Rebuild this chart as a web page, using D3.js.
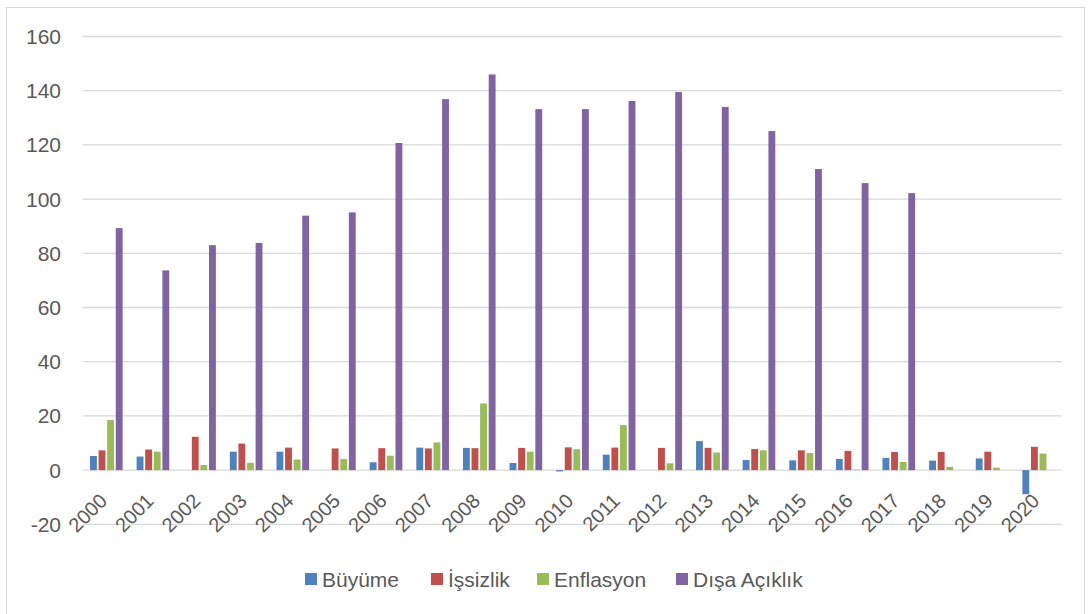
<!DOCTYPE html>
<html>
<head>
<meta charset="utf-8">
<script src="https://cdn.jsdelivr.net/npm/d3@7"></script>
<style>
  body { margin: 0; background: #fff; }
  svg text { font-family: "Liberation Sans", Arial, sans-serif; fill: #595959; }
</style>
</head>
<body>
<svg id="chart" width="1089" height="614"></svg>
<script>
const years = ['2000','2001','2002','2003','2004','2005','2006','2007','2008','2009','2010',
               '2011','2012','2013','2014','2015','2016','2017','2018','2019','2020']

const buyume     = [5.2, 5.0, null, 6.8, 6.8, null, 2.9, 8.3, 8.2, 2.6, -0.5,
                    5.7, null, 10.7, 3.7, 3.6, 4.1, 4.5, 3.5, 4.3, -8.9]
const issizlik   = [7.3, 7.6, 12.3, 9.8, 8.3, 8.0, 8.1, 8.0, 8.1, 8.2, 8.4,
                    8.3, 8.2, 8.2, 7.8, 7.3, 7.1, 6.7, 6.7, 6.8, 8.6]
const enflasyon  = [18.5, 6.8, 1.9, 2.7, 3.9, 4.1, 5.3, 10.2, 24.6, 6.8, 7.7,
                    16.6, 2.5, 6.5, 7.3, 6.3, 0.2, 3.0, 1.2, 0.9, 6.1]
const disaAciklik = [89.3, 73.7, 83.0, 83.8, 93.9, 95.1, 120.7, 136.9, 146.0, 133.2, 133.2,
                     136.2, 139.5, 134.0, 125.1, 111.1, 105.9, 102.2, null, null, null]

const seriesNames = ['Büyüme', 'İşsizlik', 'Enflasyon', 'Dışa Açıklık']
const seriesValues = [buyume, issizlik, enflasyon, disaAciklik]
const seriesColors = ['#4F81BD', '#C0504D', '#9BBB59', '#8064A2']
const yTicks = [-20, 0, 20, 40, 60, 80, 100, 120, 140, 160]

const svg = d3.select('#chart')

// outer frame
svg.append('rect')
    .attr('x', 6.5).attr('y', 7.5)
    .attr('width', 1078).attr('height', 620)
    .attr('fill', 'none')
    .attr('stroke', '#d9d9d9')

const x0 = d3.scaleBand()
    .domain(years)
    .range([83, 1062])
    .paddingInner(0.3)
    .paddingOuter(0.15)

const x1 = d3.scaleBand()
    .domain(seriesNames)
    .range([0, x0.bandwidth()])
    .paddingInner(0.2)

const y = d3.scaleLinear()
    .domain([-20, 160])
    .range([524.3, 36.5])

// gridlines
svg.append('g')
    .selectAll('line')
    .data(yTicks)
    .enter().append('line')
    .attr('x1', 83).attr('x2', 1062)
    .attr('y1', d => y(d)).attr('y2', d => y(d))
    .attr('stroke', '#d9d9d9')
    .attr('stroke-width', 1.3)

// y labels
svg.append('g')
    .selectAll('text')
    .data(yTicks)
    .enter().append('text')
    .attr('x', 61)
    .attr('y', d => y(d))
    .attr('dy', '0.36em')
    .attr('text-anchor', 'end')
    .style('font-size', '21px')
    .text(d => d)

// bars
const rows = []
years.forEach((yr, i) => {
    seriesNames.forEach((name, k) => {
        const v = seriesValues[k][i]
        if (v !== null) rows.push({ year: yr, name: name, value: v, color: seriesColors[k] })
    })
})

svg.append('g')
    .selectAll('rect')
    .data(rows)
    .enter().append('rect')
    .attr('x', d => x0(d.year) + x1(d.name))
    .attr('width', x1.bandwidth())
    .attr('y', d => y(Math.max(0, d.value)))
    .attr('height', d => Math.abs(y(d.value) - y(0)))
    .attr('fill', d => d.color)

// x labels, rotated
svg.append('g')
    .selectAll('text')
    .data(years)
    .enter().append('text')
    .attr('transform', d => `translate(${x0(d) + x0.bandwidth() / 2 + 2}, ${y(0) + 32}) rotate(-45)`)
    .attr('text-anchor', 'end')
    .style('font-size', '20px')
    .text(d => d)

// legend
const legendX = [305, 431, 537, 676]
const legend = svg.append('g')
    .selectAll('g')
    .data(seriesNames)
    .enter().append('g')
    .attr('transform', (d, i) => `translate(${legendX[i]}, 579)`)

legend.append('rect')
    .attr('x', 0).attr('y', -6)
    .attr('width', 12).attr('height', 12)
    .attr('fill', (d, i) => seriesColors[i])

legend.append('text')
    .attr('x', 17)
    .attr('dy', '0.36em')
    .style('font-size', '21px')
    .text(d => d)
</script>
</body>
</html>
